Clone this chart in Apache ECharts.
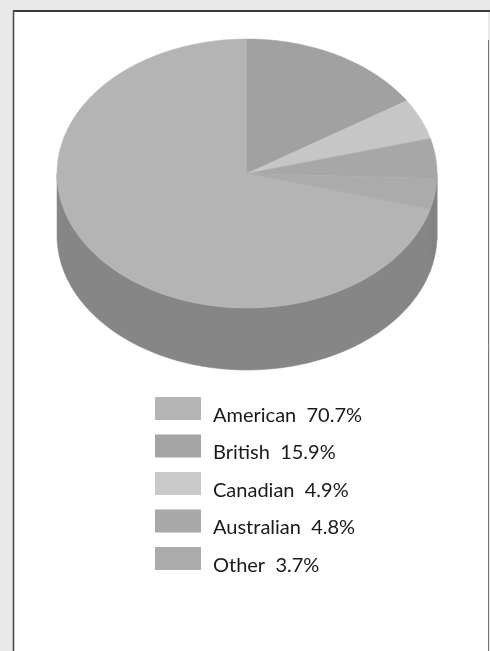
<!DOCTYPE html>
<html><head><meta charset="utf-8">
<script src="https://cdn.jsdelivr.net/npm/echarts@6/dist/echarts.min.js"></script>
<style>html,body{margin:0;padding:0;background:#fff}#c{width:490px;height:651px}</style>
</head><body><div id="c"></div>
<script>
const categories = ['American', 'British', 'Canadian', 'Australian', 'Other'];
const shares = [70.7, 15.9, 4.9, 4.8, 3.7];
const topColors = ['#b4b4b4', '#a1a1a1', '#c6c6c6', '#a7a7a7', '#ababab'];
const sideColors = ['#868686', '#7a7a7a', '#959595', '#7e7e7e', '#828282'];
const legendColors = ['#b4b4b4', '#a4a4a4', '#c9c9c9', '#a8a8a8', '#ababab'];

// slices drawn clockwise from 12 o'clock in this order
const drawOrder = [1, 2, 3, 4, 0];
const PIE = { cx: 247, cy: 173.5, rx: 190, ry: 134.5, depth: 62 };

const total = shares.reduce((a, b) => a + b, 0);
const startDeg = {};
let acc = 0;
drawOrder.forEach(i => { startDeg[i] = acc / total * 360; acc += shares[i]; });

function pt(deg, dy) {
  const r = deg * Math.PI / 180;
  return [PIE.cx + PIE.rx * Math.sin(r), PIE.cy - PIE.ry * Math.cos(r) + (dy || 0)];
}
function arc(a, b, dy) {
  const pts = [];
  const n = Math.max(2, Math.ceil(Math.abs(b - a)));
  for (let k = 0; k <= n; k++) pts.push(pt(a + (b - a) * k / n, dy));
  return pts;
}

function renderItem(params, api) {
  const i = params.dataIndex;
  const v = api.value(0);
  const a = startDeg[i], b = a + v / total * 360;
  const children = [];
  const fa = Math.max(a, 90), fb = Math.min(b, 270);
  if (fb > fa) {
    const top = arc(fa, fb, 0);
    const bottom = arc(fb, fa, PIE.depth);
    children.push({ type: 'polygon', z2: 1, shape: { points: top.concat(bottom) },
      style: { fill: sideColors[i], stroke: sideColors[i], lineWidth: 0.5 } });
  }
  children.push({ type: 'polygon', z2: 2, shape: { points: [[PIE.cx, PIE.cy]].concat(arc(a, b, 0)) },
    style: { fill: topColors[i], stroke: topColors[i], lineWidth: 0.5 } });
  return { type: 'group', children };
}

const chart = echarts.init(document.getElementById('c'), null, { renderer: 'canvas' });
chart.setOption({
  animation: false,
  backgroundColor: '#e8e8e8',
  graphic: [
    { type: 'rect', z: -10, shape: { x: 14, y: 12, width: 474, height: 650 }, style: { fill: '#ffffff' } },
    { type: 'line', z: -9, shape: { x1: 13, y1: 11, x2: 490, y2: 11 }, style: { stroke: '#3a3a3a', lineWidth: 2 } },
    { type: 'line', z: -9, shape: { x1: 13.5, y1: 11, x2: 13.5, y2: 651 }, style: { stroke: '#444444', lineWidth: 1.5 } },
    { type: 'line', z: -9, shape: { x1: 488.5, y1: 40, x2: 488.5, y2: 651 }, style: { stroke: '#777777', lineWidth: 1 } }
  ],
  legend: {
    orient: 'vertical',
    left: 155,
    top: 397,
    padding: 0,
    icon: 'rect',
    itemWidth: 46,
    itemHeight: 23,
    itemGap: 9,
    selectedMode: false,
    data: categories,
    formatter: name => '{t|' + name + '  ' + shares[categories.indexOf(name)].toFixed(1) + '%}',
    textStyle: {
      color: '#1a1a1a',
      rich: { t: { fontFamily: 'Lato', fontSize: 20, color: '#1a1a1a', padding: [14, 0, 0, 7] } }
    }
  },
  series: [
    {
      type: 'custom',
      coordinateSystem: 'none',
      silent: true,
      renderItem: renderItem,
      data: shares.map((v, i) => ({ name: categories[i], value: [v] }))
    },
    {
      type: 'pie',
      silent: true,
      radius: [0, 0],
      center: [-50, -50],
      label: { show: false },
      labelLine: { show: false },
      itemStyle: { borderWidth: 0 },
      data: shares.map((v, i) => ({ name: categories[i], value: v, itemStyle: { color: legendColors[i] } }))
    }
  ]
});
</script>
</body></html>
